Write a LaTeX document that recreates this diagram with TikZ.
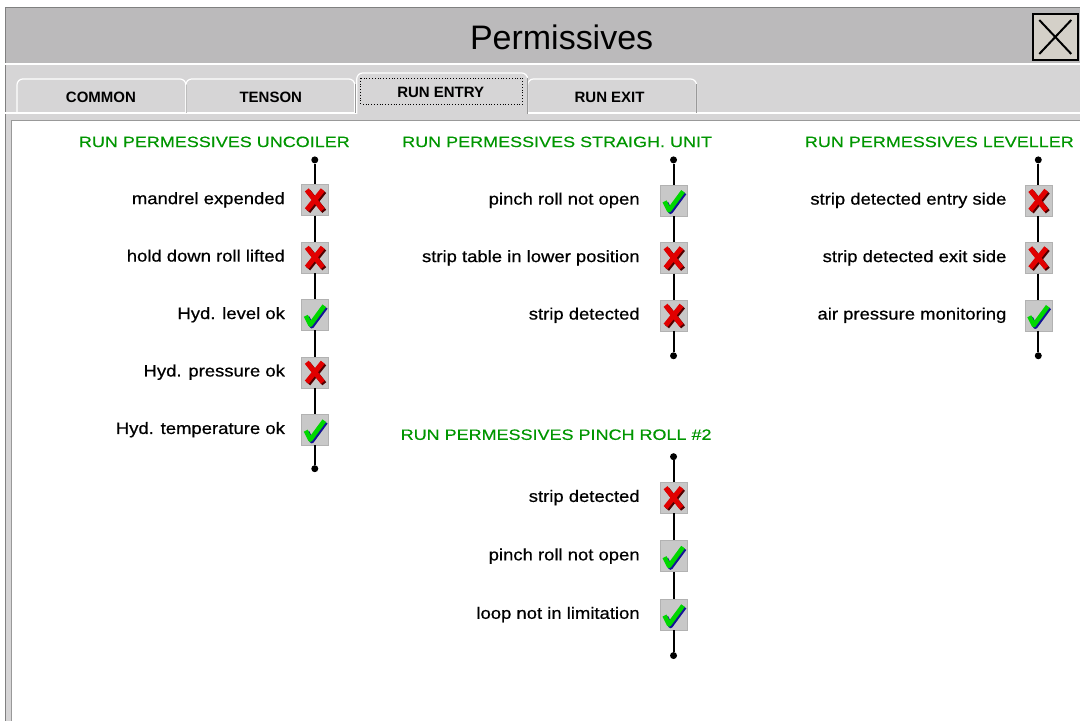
\documentclass[tikz,border=0pt]{standalone}
\usepackage{fontspec}
\setmainfont{Liberation Sans}
\newfontfamily\labelfont[FakeStretch=1.12,FakeBold=0.6]{Liberation Sans}
\newfontfamily\headfont[FakeStretch=1.2,FakeBold=0.4]{Liberation Sans}
\usetikzlibrary{positioning}
\definecolor{bargray}{RGB}{187,186,187}
\definecolor{tabgray}{RGB}{214,213,214}
\definecolor{btngray}{RGB}{212,208,200}
\definecolor{icongray}{RGB}{200,200,200}
\definecolor{headgreen}{RGB}{0,150,0}
\definecolor{xred}{RGB}{225,0,0}
\definecolor{xshade}{RGB}{80,0,0}
\definecolor{tickgreen}{RGB}{0,215,0}
\definecolor{tickblue}{RGB}{20,20,150}
\begin{document}
\begin{tikzpicture}[x=1pt,y=-1pt,
    head/.style={text=headgreen, font=\headfont\fontsize{15}{15}\selectfont, inner sep=0},
    lbl/.style={font=\labelfont\fontsize{16.5}{16}\selectfont, inner sep=0, text height=12pt, text depth=3.5pt},
    tablbl/.style={font=\bfseries\fontsize{15}{15}\selectfont, inner sep=0},
    icon/.style={draw=gray!60, fill=icongray, minimum width=27pt, minimum height=31pt, inner sep=0},
    fail/.style={icon, path picture={
        \coordinate (c) at (path picture bounding box.center);
        \draw[xshade, line width=5pt] ([shift={(-6.5pt,8.5pt)}]c) -- ([shift={(9.5pt,-11.5pt)}]c)
            ([shift={(9.5pt,8.5pt)}]c) -- ([shift={(-6.5pt,-11.5pt)}]c);
        \draw[xred, line width=5pt] ([shift={(-8pt,10pt)}]c) -- ([shift={(8pt,-10pt)}]c)
            ([shift={(8pt,10pt)}]c) -- ([shift={(-8pt,-10pt)}]c);
    }},
    ok/.style={icon, path picture={
        \coordinate (c) at (path picture bounding box.center);
        \draw[tickblue, line width=4.5pt, line join=round] ([shift={(-7.5pt,-2.5pt)}]c) -- ([shift={(-3pt,-11.5pt)}]c) -- ([shift={(11pt,7.5pt)}]c);
        \draw[tickgreen, line width=4.5pt, line join=round] ([shift={(-9pt,-1pt)}]c) -- ([shift={(-4.5pt,-10pt)}]c) -- ([shift={(9.5pt,9pt)}]c);
    }},
    dot/.style={circle, fill=black, inner sep=0, minimum size=7pt},
    wire/.style={line width=2pt}
]
    % window
    \fill[white] (0,0) rectangle (1081,721);
    \fill[tabgray] (5,7) rectangle (1081,721);
    \fill[bargray] (5,7) rectangle (1081,63);
    \draw[gray] (5.5,721) -- (5.5,7.5) -- (1081,7.5);
    \draw[white, line width=1.5] (5,64) -- (1081,64);
    \node (title) at (562,37) {\fontsize{34}{34}\selectfont Permissives};
    \node[draw, line width=1.5, fill=btngray, minimum width=45pt, minimum height=46pt, inner sep=0] (close) at (1056,37) {};
    \draw[line width=2] ([shift={(-16pt,17pt)}]close.center) -- ([shift={(16pt,-17pt)}]close.center)
        ([shift={(16pt,17pt)}]close.center) -- ([shift={(-16pt,-17pt)}]close.center);

    % tabs
    \draw[white, line width=1.2] (5,113) -- (357,113) (528,113) -- (1081,113);
    \foreach \x/\y in {17/186,186/355,528/697}
    {
        \draw[white, line width=1.2, rounded corners=6] (\x,113) -- (\x,79) -- (\y,79) -- (\y,113);
        \draw[gray!80] (\y,84) -- (\y,113);
    }
    \draw[white, line width=1.2, rounded corners=6] (357,114) -- (357,73) -- (528,73) -- (528,114);
    \draw[gray!80] (528,78) -- (528,114);
    \draw[dotted, line width=0.8] (361,78) rectangle (523,104);
    \node[tablbl] (common) at (101,97) {COMMON};
    \node[tablbl] (tenson) at (271,97) {TENSON};
    \node[tablbl] (runentry) at (441,92) {RUN ENTRY};
    \node[tablbl] (runexit) at (610,97) {RUN EXIT};

    % panel
    \fill[white] (11,120) rectangle (1081,721);
    \draw[gray!80] (11.5,721) -- (11.5,120.5) -- (1081,120.5);

    % uncoiler
    \node[head] (uncoiler) at (214.5,142) {RUN PERMESSIVES UNCOILER};
    \node[dot] (u0) at (315,160) {};
    \node[fail] (u1) at (315,200) {};
    \node[fail] (u2) at (315,257.5) {};
    \node[ok] (u3) at (315,315) {};
    \node[fail] (u4) at (315,372.5) {};
    \node[ok] (u5) at (315,430) {};
    \node[dot] (u6) at (315,469) {};
    \draw[wire] (u0) -- (u1) -- (u2) -- (u3) -- (u4) -- (u5) -- (u6);
    \node[lbl, left=16pt of u1] (lu1) {mandrel expended};
    \node[lbl, left=16pt of u2] (lu2) {hold down roll lifted};
    \node[lbl, left=16pt of u3] (lu3) {Hyd. level ok};
    \node[lbl, left=16pt of u4] (lu4) {Hyd. pressure ok};
    \node[lbl, left=16pt of u5] (lu5) {Hyd. temperature ok};

    % straightener
    \node[head] (straigh) at (557.5,142) {RUN PERMESSIVES STRAIGH. UNIT};
    \node[dot] (s0) at (674,160) {};
    \node[ok] (s1) at (674,200.5) {};
    \node[fail] (s2) at (674,258) {};
    \node[fail] (s3) at (674,315.5) {};
    \node[dot] (s4) at (674,356) {};
    \draw[wire] (s0) -- (s1) -- (s2) -- (s3) -- (s4);
    \node[lbl, left=20pt of s1] (ls1) {pinch roll not open};
    \node[lbl, left=20pt of s2] (ls2) {strip table in lower position};
    \node[lbl, left=20pt of s3] (ls3) {strip detected};

    % pinch roll
    \node[head] (pinch) at (556.5,435) {RUN PERMESSIVES PINCH ROLL \#2};
    \node[dot] (p0) at (674,457) {};
    \node[fail] (p1) at (674,498) {};
    \node[ok] (p2) at (674,556.5) {};
    \node[ok] (p3) at (674,615) {};
    \node[dot] (p4) at (674,656) {};
    \draw[wire] (p0) -- (p1) -- (p2) -- (p3) -- (p4);
    \node[lbl, left=20pt of p1] (lp1) {strip detected};
    \node[lbl, left=20pt of p2] (lp2) {pinch roll not open};
    \node[lbl, left=20pt of p3] (lp3) {loop not in limitation};

    % leveller
    \node[head] (leveller) at (940,142) {RUN PERMESSIVES LEVELLER};
    \node[dot] (v0) at (1039,160) {};
    \node[fail] (v1) at (1039,200.5) {};
    \node[fail] (v2) at (1039,258) {};
    \node[ok] (v3) at (1039,315.5) {};
    \node[dot] (v4) at (1039,356) {};
    \draw[wire] (v0) -- (v1) -- (v2) -- (v3) -- (v4);
    \node[lbl, left=18pt of v1] (lv1) {strip detected entry side};
    \node[lbl, left=18pt of v2] (lv2) {strip detected exit side};
    \node[lbl, left=18pt of v3] (lv3) {air pressure monitoring};
\end{tikzpicture}
\end{document}
